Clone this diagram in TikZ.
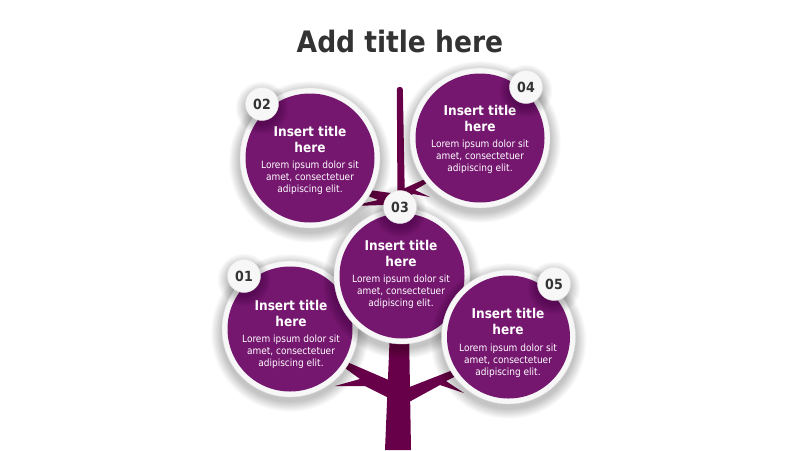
\documentclass[tikz,border=0pt]{standalone}
\usepackage{fontspec}
\setmainfont{DejaVu Sans Condensed}
\definecolor{plum}{HTML}{75166F}
\definecolor{trunkc}{HTML}{680049}
\definecolor{txt}{HTML}{333333}
\definecolor{ringc}{HTML}{F7F7F7}
\tikzset{
  ringdisc/.style={circle, inner sep=0pt, fill=ringc, draw=black!12, line width=0.4pt},
  plumdisc/.style={circle, inner sep=0pt, fill=plum},
  badgedisc/.style={circle, inner sep=0pt, minimum size=33pt, fill=ringc, draw=black!10, line width=0.4pt,
     font=\bfseries\fontsize{14}{14}\selectfont, text=txt},
  ttl/.style={align=center, text=white, font=\bfseries\fontsize{13.5}{16}\selectfont, inner sep=0pt},
  lorem/.style={align=center, text=white, font=\fontsize{10}{12}\selectfont, inner sep=0pt},
  branch/.style={fill=trunkc},
}
\newcommand\softshadow[3]{% x, y, radius
  \foreach \k in {1,...,12}{\fill[black, opacity=0.02] (#1,#2+4) circle[radius=#3pt+\k*0.9pt];}
}
\begin{document}
\begin{tikzpicture}[x=1pt, y=-1pt]
\useasboundingbox (0,0) rectangle (800,450);
\fill[white] (0,0) rectangle (800,450);

% title
\node[font=\bfseries\fontsize{29.5}{29.5}\selectfont, text=txt] (title) at (400,42) {Add title here};

% tree
\fill[branch, rounded corners=2.5pt] (396.8,87) -- (402.8,87) -- (405,206) -- (397.5,206) -- cycle;
\fill[branch] (403,189) -- (425,179) -- (427,183) -- (415,190) -- (430,197) -- (413,194) -- (403,200) -- cycle;
\fill[branch] (398,194) -- (362,189) -- (361,193) -- (378,200) -- (352,206) -- (384,205) -- (398,208) -- cycle;
\fill[branch] (390,330) -- (409,330) -- (411,450) -- (385,450) -- cycle;
\fill[branch] (391,381) -- (347,362) -- (345,368) -- (360,379) -- (335,386) -- (365,386) -- (389,398) -- cycle;
\fill[branch] (407,388) -- (453,370) -- (456,376) -- (446,381) -- (464,393) -- (440,385) -- (409,402) -- cycle;

% circle 02
\softshadow{310}{158}{70}
\node[ringdisc, minimum size=140pt] (r2) at (310,158) {};
\node[plumdisc, minimum size=129pt] (c2) at (310,158) {};
\node[ttl] (t2) at (310,139) {Insert title\\here};
\node[lorem] (l2) at (310,178) {Lorem ipsum dolor sit\\amet, consectetuer\\adipiscing elit.};

% circle 04
\softshadow{480}{138}{70}
\node[ringdisc, minimum size=140pt] (r4) at (480,138) {};
\node[plumdisc, minimum size=129pt] (c4) at (480,138) {};
\node[ttl] (t4) at (480,118) {Insert title\\here};
\node[lorem] (l4) at (480,157) {Lorem ipsum dolor sit\\amet, consectetuer\\adipiscing elit.};

% circle 01
\softshadow{290}{329}{68}
\node[ringdisc, minimum size=136pt] (r1) at (290,329) {};
\node[plumdisc, minimum size=125pt] (c1) at (290,329) {};
\node[ttl] (t1) at (291,313) {Insert title\\here};
\node[lorem] (l1) at (291,352) {Lorem ipsum dolor sit\\amet, consectetuer\\adipiscing elit.};

% circle 03
\softshadow{402}{276}{68}
\node[ringdisc, minimum size=136pt] (r3) at (402,276) {};
\node[plumdisc, minimum size=125pt] (c3) at (402,276) {};
\node[ttl] (t3) at (401,253) {Insert title\\here};
\node[lorem] (l3) at (401,292) {Lorem ipsum dolor sit\\amet, consectetuer\\adipiscing elit.};

% circle 05
\softshadow{508.5}{337}{67}
\node[ringdisc, minimum size=134pt] (r5) at (508.5,337) {};
\node[plumdisc, minimum size=123pt] (c5) at (508.5,337) {};
\node[ttl] (t5) at (508,321) {Insert title\\here};
\node[lorem] (l5) at (508,361) {Lorem ipsum dolor sit\\amet, consectetuer\\adipiscing elit.};

% badges
\foreach \bx/\by in {262/104, 526/87, 400/207, 244/276, 554/284}{
  \softshadow{\bx}{\by}{15.5}
}
\node[badgedisc] (b2) at (262,104) {02};
\node[badgedisc] (b4) at (526,87) {04};
\node[badgedisc] (b3) at (400,207) {03};
\node[badgedisc] (b1) at (244,276) {01};
\node[badgedisc] (b5) at (554,284) {05};
\end{tikzpicture}
\end{document}
